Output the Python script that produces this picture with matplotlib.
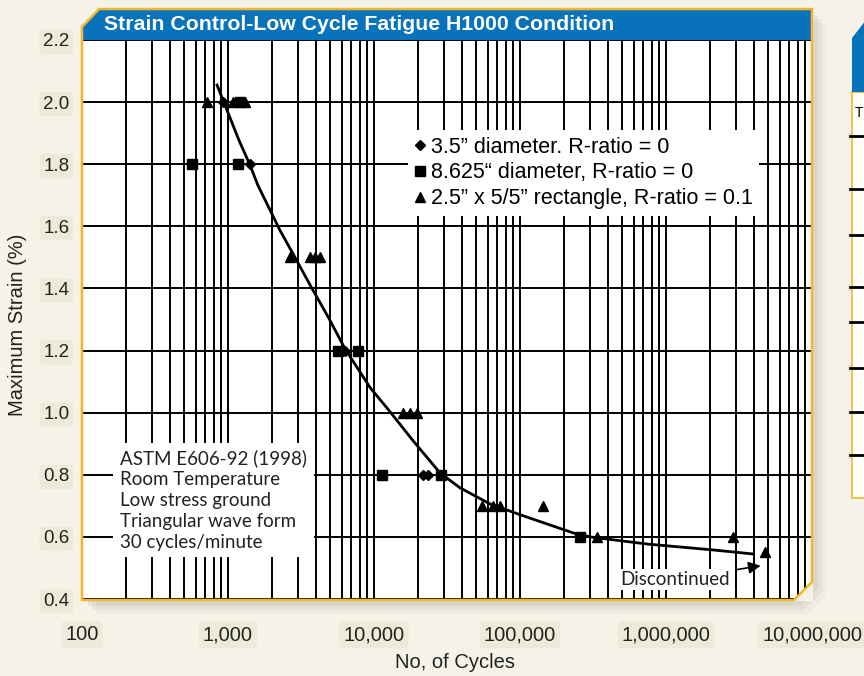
import matplotlib
matplotlib.use("Agg")
import matplotlib.pyplot as plt
from matplotlib.lines import Line2D
from matplotlib.patches import Polygon
from matplotlib.ticker import FixedLocator, FuncFormatter, LogLocator, NullFormatter

W, H = 864, 676
BLUE = "#0872BA"
ORANGE = "#F4B62C"
CREAM = "#F5F3E8"

# data
diamond_cycles = [925, 1420, 6300, 21700, 23400]
diamond_strain = [2.0, 1.8, 1.2, 0.8, 0.8]

square_cycles = [1200, 570, 1170, 5660, 7770, 11350, 28800, 258000]
square_strain = [2.0, 1.8, 1.8, 1.2, 1.2, 0.8, 0.8, 0.6]

triangle_cycles = [720, 1085, 1300, 2660, 3650, 3950, 4270, 15800, 17700, 19700,
                   55000, 65300, 72900, 144000, 336000, 2880000, 4760000]
triangle_strain = [2.0, 2.0, 2.0, 1.5, 1.5, 1.5, 1.5, 1.0, 1.0, 1.0,
                   0.7, 0.7, 0.7, 0.7, 0.6, 0.6, 0.55]

curve_cycles = [841, 925, 1189, 1416, 1603, 2270, 2877, 3700, 4920, 6324, 9397,
                12880, 18490, 28310, 38820, 62370, 105000, 230700, 301300,
                741300, 2099000, 3945000]
curve_strain = [2.055, 2.006, 1.877, 1.797, 1.732, 1.587, 1.500, 1.406, 1.303,
                1.206, 1.081, 1.003, 0.910, 0.806, 0.758, 0.706, 0.668, 0.613,
                0.600, 0.577, 0.558, 0.545]

legend_labels = ["3.5\u201d diameter. R-ratio = 0",
                 "8.625\u201c diameter, R-ratio = 0",
                 "2.5\u201d x 5/5\u201d rectangle, R-ratio = 0.1"]
y_ticks = [0.4, 0.6, 0.8, 1.0, 1.2, 1.4, 1.6, 1.8, 2.0, 2.2]
x_ticks = [100, 1000, 10000, 100000, 1000000, 10000000]
notes = ["ASTM E606-92 (1998)", "Room Temperature", "Low stress ground",
         "Triangular wave form", "30 cycles/minute"]


def px(points):
    return [(x / W, 1 - y / H) for x, y in points]


fig = plt.figure(figsize=(W / 100, H / 100), dpi=100, facecolor=CREAM)

# drop shadow of the panel
for off, alpha in ((14, 0.05), (10, 0.07), (6, 0.09)):
    shade = [(82 + off, 27 + off), (99 + off, 9 + off), (812 + off, 9 + off),
             (812 + off, 582 + off), (794 + off, 600 + off), (82 + off, 600 + off)]
    fig.add_artist(Polygon(px(shade), closed=True, transform=fig.transFigure,
                           facecolor="#6E6A55", edgecolor="none", alpha=alpha, zorder=-2))

# partial neighbouring panel on the right
fig.add_artist(Polygon(px([(852, 92), (880, 92), (880, 498), (852, 498)]), transform=fig.transFigure,
                       facecolor="white", edgecolor=ORANGE, linewidth=1.2, zorder=-1))
fig.add_artist(Polygon(px([(852, 38), (866, 20), (880, 20), (880, 92), (852, 92)]),
                       transform=fig.transFigure, facecolor=BLUE, edgecolor="none", zorder=-1))
for yy in (136, 189, 235, 287, 322, 368, 412, 455):
    fig.add_artist(Line2D([850 / W, 1.0], [1 - yy / H] * 2, transform=fig.transFigure,
                          color="black", linewidth=2, zorder=0))
fig.text(855 / W, 1 - 113 / H, "T", fontsize=10, family="Liberation Sans", va="center")

ax = fig.add_axes([82 / W, 1 - 599 / H, 730 / W, 559 / H])
ax.set_facecolor("white")
ax.set_xscale("log")
ax.set_xlim(100, 1e7)
ax.set_ylim(0.4, 2.2)
for side in ax.spines.values():
    side.set_visible(False)

ax.xaxis.set_major_locator(FixedLocator(x_ticks))
ax.xaxis.set_minor_locator(LogLocator(base=10, subs=range(2, 10), numticks=20))
ax.xaxis.set_minor_formatter(NullFormatter())
ax.xaxis.set_major_formatter(FuncFormatter(lambda v, _: f"{int(round(v)):,}"))
ax.yaxis.set_major_locator(FixedLocator(y_ticks))
ax.yaxis.set_major_formatter(FuncFormatter(lambda v, _: f"{v:.1f}"))
ax.tick_params(which="both", length=0)
ax.tick_params(axis="x", pad=19, labelsize=14.5, labelcolor="#222222")
ax.tick_params(axis="y", pad=9, labelsize=13.5, labelcolor="#222222")
for lab in ax.get_xticklabels() + ax.get_yticklabels():
    lab.set_family("Liberation Sans")
    lab.set_bbox(dict(boxstyle="round,pad=0.2", facecolor="#ECEBDA", edgecolor="none"))

ax.grid(True, axis="x", which="both", color="black", linewidth=1.4)
ax.grid(True, axis="y", which="major", color="black", linewidth=1.4)
ax.set_axisbelow(True)

ax.plot(curve_cycles, curve_strain, color="black", linewidth=2.0, zorder=3)
d = ax.plot(diamond_cycles, diamond_strain, "D", color="black", markersize=5.5, zorder=4)[0]
s = ax.plot(square_cycles, square_strain, "s", color="black", markersize=7, zorder=4)[0]
t = ax.plot(triangle_cycles, triangle_strain, "^", color="black", markersize=7, zorder=4)[0]

leg = ax.legend([d, s, t], legend_labels, loc="upper left", bbox_to_anchor=(0.432, 0.858),
                frameon=True, fancybox=False, handlelength=0.5, handletextpad=0.25,
                borderpad=0.3, labelspacing=0.22, markerscale=0.95,
                prop={"family": "Liberation Sans", "size": 15.5})
leg.get_frame().set_edgecolor("none")
leg.get_frame().set_facecolor("white")
leg.get_frame().set_alpha(1)
leg.set_zorder(6)

ax.text(0.052, 0.268, "\n".join(notes), transform=ax.transAxes, ha="left", va="top",
        family="Lato", fontsize=13.5, color="#222222", linespacing=1.28, zorder=5,
        bbox=dict(boxstyle="square,pad=0.35", facecolor="white", edgecolor="none"))

ax.annotate("Discontinued", xy=(4.45e6, 0.507), xytext=(2.74e6, 0.463),
            ha="right", va="center", family="Lato", fontsize=13.5, color="#222222",
            arrowprops=dict(arrowstyle="-|>", color="black", linewidth=1.2,
                            shrinkA=3, shrinkB=0, mutation_scale=18),
            bbox=dict(boxstyle="square,pad=0.1", facecolor="white", edgecolor="none"),
            zorder=5)

# bevelled bottom-right corner and outer frame
fig.add_artist(Polygon(px([(794, 601), (813, 582), (813, 601)]), transform=fig.transFigure,
                       facecolor=CREAM, edgecolor="none", zorder=4))
fig.add_artist(Polygon(px([(82, 27), (99, 9), (812, 9), (812, 40), (82, 40)]),
                       transform=fig.transFigure, facecolor=BLUE, edgecolor="none", zorder=5))
frame = [(82, 27), (99, 9), (812, 9), (812, 582), (794, 600), (82, 600)]
fig.add_artist(Polygon(px(frame), closed=True, transform=fig.transFigure,
                       facecolor="none", edgecolor=ORANGE, linewidth=1.8, zorder=6))

fig.text(104 / W, 1 - 24 / H, "Strain Control-Low Cycle Fatigue H1000 Condition",
         color="white", fontsize=15.3, fontweight="bold", family="Liberation Sans",
         va="center", ha="left", zorder=7)
fig.text(18 / W, 1 - 325 / H, "Maximum Strain (%)", rotation=90, fontsize=14.5,
         family="Liberation Sans", color="#222222", ha="center", va="center")
fig.text(455 / W, 1 - 663 / H, "No, of Cycles", fontsize=14.5,
         family="Liberation Sans", color="#222222", ha="center", va="center")

fig.savefig("out.png", dpi=100, facecolor=CREAM)
